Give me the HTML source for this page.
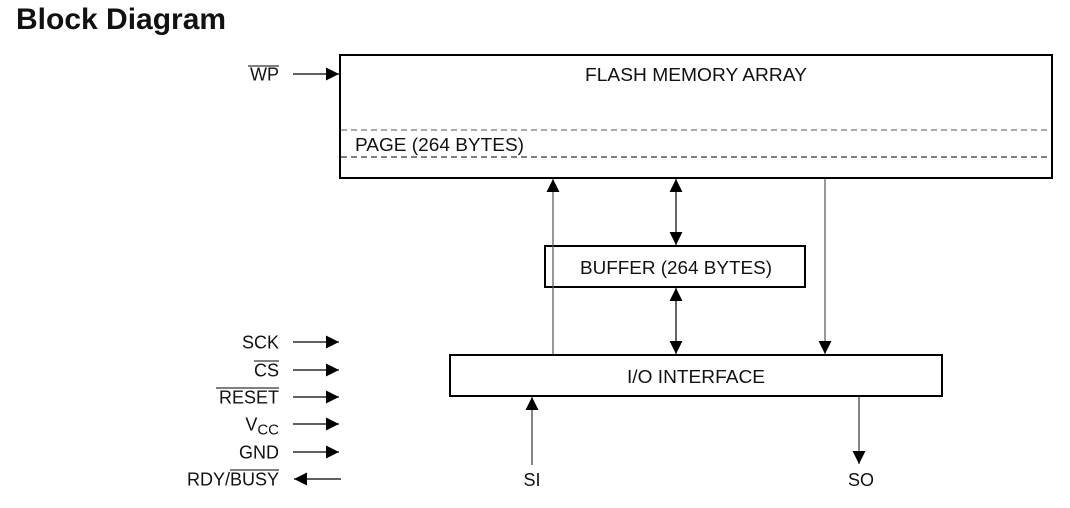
<!DOCTYPE html>
<html><head><meta charset="utf-8"><style>
html,body{margin:0;padding:0;background:#fff;width:1070px;height:508px;overflow:hidden}
svg{display:block}
text{font-family:"Liberation Sans",Arial,sans-serif;fill:#111}
</style></head><body>
<svg width="1070" height="508" viewBox="0 0 1070 508" xmlns="http://www.w3.org/2000/svg">
<defs>
<marker id="a" viewBox="0 0 10 10" refX="10" refY="5" markerWidth="18" markerHeight="13" markerUnits="userSpaceOnUse" orient="auto"><path d="M0,0 L10,5 L0,10 z" fill="#000"/></marker>
</defs>
<text x="16" y="29" font-size="30" font-weight="bold" fill="#000">Block Diagram</text>

<rect x="340" y="55" width="712" height="123" fill="none" stroke="#000" stroke-width="2"/>
<line x1="341" y1="130" x2="1051" y2="130" stroke="#555" stroke-width="1" stroke-dasharray="6,4"/>
<line x1="341" y1="157" x2="1051" y2="157" stroke="#000" stroke-width="1" stroke-dasharray="6,4"/>
<text x="696" y="81" font-size="18" text-anchor="middle" textLength="222" lengthAdjust="spacingAndGlyphs">FLASH MEMORY ARRAY</text>
<text x="355" y="151" font-size="18" textLength="169" lengthAdjust="spacingAndGlyphs">PAGE (264 BYTES)</text>

<rect x="545" y="246" width="260" height="41" fill="none" stroke="#000" stroke-width="2"/>
<line x1="553" y1="247" x2="553" y2="286" stroke="#888" stroke-dasharray="4,3"/>
<text x="676" y="274" font-size="18" text-anchor="middle" textLength="192" lengthAdjust="spacingAndGlyphs">BUFFER (264 BYTES)</text>

<rect x="450" y="355" width="492" height="41" fill="none" stroke="#000" stroke-width="2"/>
<text x="696" y="383" font-size="18" text-anchor="middle" textLength="138" lengthAdjust="spacingAndGlyphs">I/O INTERFACE</text>

<line x1="553" y1="354" x2="553" y2="179" stroke="#555" stroke-width="1.2" marker-end="url(#a)"/>
<line x1="676" y1="212" x2="676" y2="179" stroke="#000" stroke-width="1.2" marker-end="url(#a)"/>
<line x1="676" y1="212" x2="676" y2="245" stroke="#000" stroke-width="1.2" marker-end="url(#a)"/>
<line x1="676" y1="321" x2="676" y2="288" stroke="#000" stroke-width="1.2" marker-end="url(#a)"/>
<line x1="676" y1="321" x2="676" y2="354" stroke="#000" stroke-width="1.2" marker-end="url(#a)"/>
<line x1="825" y1="179" x2="825" y2="354" stroke="#555" stroke-width="1.2" marker-end="url(#a)"/>
<line x1="532" y1="465" x2="532" y2="397" stroke="#333" stroke-width="1.2" marker-end="url(#a)"/>
<line x1="859" y1="397" x2="859" y2="464" stroke="#333" stroke-width="1.2" marker-end="url(#a)"/>
<text x="532" y="486" font-size="18" text-anchor="middle">SI</text>
<text x="861" y="486" font-size="18" text-anchor="middle">SO</text>

<line x1="293" y1="74" x2="339" y2="74" stroke="#000" stroke-width="1.2" marker-end="url(#a)"/>
<text x="279" y="80.5" font-size="18" text-anchor="end">WP</text>
<line x1="248" y1="66" x2="279" y2="66" stroke="#000" stroke-width="1"/>

<line x1="293" y1="342" x2="339" y2="342" stroke="#000" stroke-width="1.2" marker-end="url(#a)"/>
<text x="279" y="348.5" font-size="18" text-anchor="end">SCK</text>
<line x1="293" y1="370" x2="339" y2="370" stroke="#000" stroke-width="1.2" marker-end="url(#a)"/>
<text x="279" y="376.5" font-size="18" text-anchor="end">CS</text>
<line x1="254" y1="361" x2="279" y2="361" stroke="#000" stroke-width="1"/>
<line x1="293" y1="397" x2="339" y2="397" stroke="#000" stroke-width="1.2" marker-end="url(#a)"/>
<text x="279" y="403.5" font-size="18" text-anchor="end">RESET</text>
<line x1="216" y1="388" x2="279" y2="388" stroke="#000" stroke-width="1"/>
<line x1="293" y1="424" x2="339" y2="424" stroke="#000" stroke-width="1.2" marker-end="url(#a)"/>
<text x="279" y="430.5" font-size="18" text-anchor="end">V<tspan font-size="15" dy="4">CC</tspan></text>
<line x1="293" y1="452" x2="339" y2="452" stroke="#000" stroke-width="1.2" marker-end="url(#a)"/>
<text x="279" y="458.5" font-size="18" text-anchor="end">GND</text>
<line x1="341" y1="479" x2="294" y2="479" stroke="#000" stroke-width="1.2" marker-end="url(#a)"/>
<text x="279" y="485.5" font-size="18" text-anchor="end">RDY/BUSY</text>
<line x1="230" y1="470" x2="279" y2="470" stroke="#000" stroke-width="1"/>
</svg>
</body></html>
